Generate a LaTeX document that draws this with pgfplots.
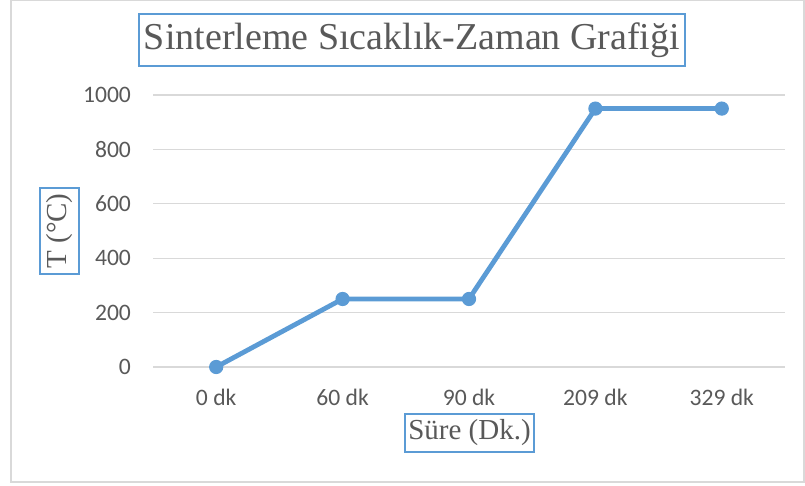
\documentclass[border=0pt]{standalone}
\usepackage{fontspec}
\setmainfont{Liberation Serif}
\newfontfamily\calibri{Carlito}
\usepackage{pgfplots}
\pgfplotsset{compat=1.18}
\definecolor{xlblue}{HTML}{5B9BD5}
\definecolor{xltext}{HTML}{595959}
\definecolor{xlgrid}{HTML}{D9D9D9}
\begin{document}
\begin{tikzpicture}
\useasboundingbox (0,0) rectangle (402.5pt,243pt);
\draw[xlgrid, line width=0.6pt] (5.5pt,2pt) rectangle (402pt,242.6pt);
\begin{axis}[
  scale only axis,
  width=316pt, height=136pt,
  at={(76.5pt,59.5pt)}, anchor=south west,
  xmin=-0.5, xmax=4.5, ymin=0, ymax=1000,
  xtick={0,1,2,3,4},
  xticklabels={0 dk,60 dk,90 dk,209 dk,329 dk},
  ytick={0,200,400,600,800,1000},
  /pgf/number format/assume math mode=true,
  /pgf/number format/1000 sep={},
  ymajorgrids, grid style={xlgrid, line width=0.6pt},
  axis x line=bottom, axis y line=left,
  x axis line style={xlgrid, line width=0.6pt, -},
  y axis line style={draw=none},
  major tick length=0pt,
  tick label style={font=\calibri\fontsize{11.8}{14}\selectfont, text=xltext},
  yticklabel style={xshift=-7.5pt},
  xticklabel style={yshift=-7.5pt},
  clip=false,
]
\addplot[xlblue, line width=2.4pt, mark=*, mark size=3.3pt, mark options={fill=xlblue, draw=xlblue, line width=0.5pt}]
  coordinates {(0,0) (1,250) (2,250) (3,950) (4,950)};
\end{axis}
\node[draw=xlblue, line width=0.7pt, minimum width=273pt, minimum height=26pt, inner sep=0pt, text=xltext, font=\fontsize{19}{22}\selectfont] at (206pt,223pt) {Sinterleme Sıcaklık-Zaman Grafiği};
\node[draw=xlblue, line width=0.7pt, minimum width=43pt, minimum height=19.5pt, inner sep=0pt, text=xltext, font=\fontsize{14.5}{17}\selectfont, rotate=90] at (29.75pt,127.5pt) {T (°C)};
\node[draw=xlblue, line width=0.7pt, minimum width=64.5pt, minimum height=19pt, inner sep=0pt, text=xltext, font=\fontsize{14.5}{17}\selectfont] at (234.75pt,26.5pt) {Süre (Dk.)};
\end{tikzpicture}
\end{document}
